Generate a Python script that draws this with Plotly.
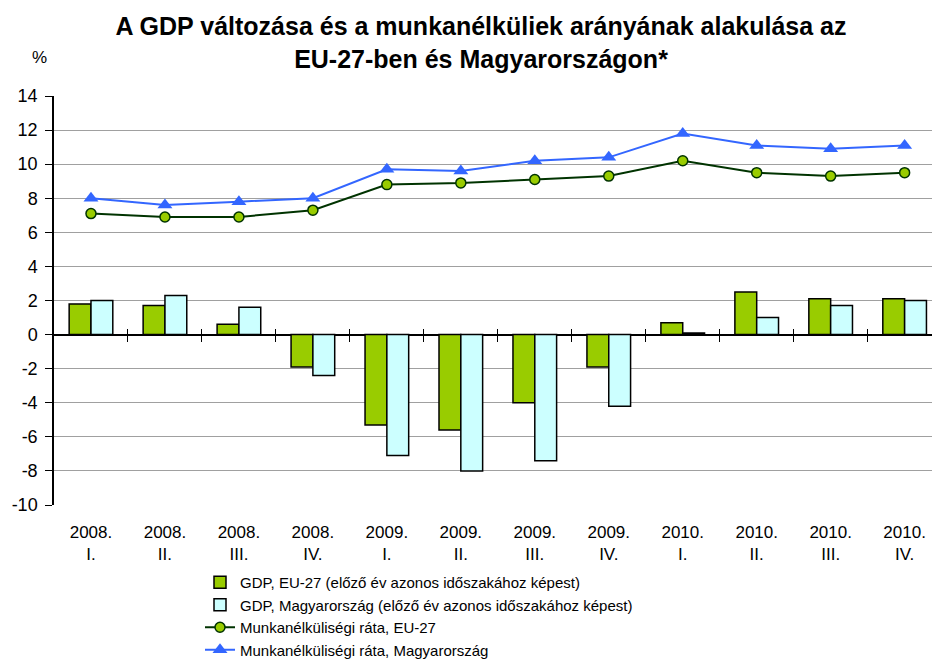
import plotly.graph_objects as go

categories = ["2008.<br>I.", "2008.<br>II.", "2008.<br>III.", "2008.<br>IV.",
              "2009.<br>I.", "2009.<br>II.", "2009.<br>III.", "2009.<br>IV.",
              "2010.<br>I.", "2010.<br>II.", "2010.<br>III.", "2010.<br>IV."]
gdp_eu = [1.8, 1.7, 0.6, -1.9, -5.3, -5.6, -4.0, -1.9, 0.7, 2.5, 2.1, 2.1]
gdp_hu = [2.0, 2.3, 1.6, -2.4, -7.1, -8.0, -7.4, -4.2, 0.1, 1.0, 1.7, 2.0]
unemp_eu = [7.1, 6.9, 6.9, 7.3, 8.8, 8.9, 9.1, 9.3, 10.2, 9.5, 9.3, 9.5]
unemp_hu = [8.0, 7.6, 7.8, 8.0, 9.7, 9.6, 10.2, 10.4, 11.8, 11.1, 10.9, 11.1]
y_tickvals = [-10, -8, -6, -4, -2, 0, 2, 4, 6, 8, 10, 12, 14]
y_ticktext = ["-10", "-8", "-6", "-4", "-2", "0", "2", "4", "6", "8", "10", "12", "14"]

names = ["GDP, EU-27 (előző év azonos időszakához képest)",
         "GDP, Magyarország (előző év azonos időszakához képest)",
         "Munkanélküliségi ráta, EU-27",
         "Munkanélküliségi ráta, Magyarország"]

x = list(range(len(categories)))
boundaries = [i + 0.5 for i in x[:-1]]
xrange_ = [-0.5, 11.37]
FONT = "Liberation Sans, Arial, sans-serif"

fig = go.Figure()
fig.add_trace(go.Bar(x=x, y=gdp_eu, name=names[0], marker=dict(color="#99CC00", line=dict(color="black", width=1.5))))
fig.add_trace(go.Bar(x=x, y=gdp_hu, name=names[1], marker=dict(color="#CCFFFF", line=dict(color="black", width=1.5))))
fig.add_trace(go.Scatter(x=x, y=unemp_eu, name=names[2], mode="lines+markers", xaxis="x2",
                         line=dict(color="#003300", width=2),
                         marker=dict(symbol="circle", size=10, color="#99CC00", line=dict(color="#003300", width=1.5))))
fig.add_trace(go.Scatter(x=x, y=unemp_hu, name=names[3], mode="lines+markers", xaxis="x3",
                         line=dict(color="#3366FF", width=2),
                         marker=dict(symbol="triangle-up", size=13, color="#3366FF")))

common_x = dict(range=xrange_, showgrid=False, zeroline=False, showline=False, automargin=False)
fig.update_layout(
    width=932, height=664,
    margin=dict(l=54, r=0, t=96, b=159, autoexpand=False),
    paper_bgcolor="white", plot_bgcolor="white",
    font=dict(family=FONT, size=17, color="black"),
    title=dict(text="<b>A GDP változása és a munkanélküliek arányának alakulása az<br>EU-27-ben és Magyarországon*</b>",
               x=481 / 932, xanchor="center", xref="container", y=0.947, yanchor="top", yref="container",
               font=dict(family=FONT, size=25, color="black")),
    barmode="group", bargap=0.41, bargroupgap=0,
    xaxis=dict(tickvals=x, ticktext=categories, ticks="", tickfont=dict(size=17), ticklabelstandoff=15, **common_x),
    xaxis2=dict(overlaying="x", anchor="free", position=10 / 24, tickvals=boundaries,
                ticks="outside", ticklen=6, tickcolor="black", tickwidth=1, showticklabels=False, **common_x),
    xaxis3=dict(overlaying="x", anchor="free", position=10 / 24, tickvals=boundaries,
                ticks="inside", ticklen=6, tickcolor="black", tickwidth=1, showticklabels=False, **common_x),
    yaxis=dict(range=[-10, 14], tickvals=y_tickvals, ticktext=y_ticktext, showline=True, linecolor="black",
               linewidth=1.5, ticks="outside", ticklen=7, tickcolor="black", gridcolor="#A0A0A0", gridwidth=1,
               zeroline=True, zerolinecolor="black", zerolinewidth=1.5, automargin=False,
               tickfont=dict(size=18), ticklabelstandoff=4),
    legend=dict(x=200 / 932, y=1 - 566 / 664, xref="container", yref="container", xanchor="left", yanchor="top",
                font=dict(size=15), bgcolor="rgba(0,0,0,0)", tracegroupgap=0),
    showlegend=True,
    annotations=[dict(text="%", xref="paper", yref="paper", x=-0.016, y=1.095, xanchor="center", yanchor="middle",
                      showarrow=False, font=dict(size=17))],
)
fig.write_html("out.html", config={"displayModeBar": False},
               post_script="document.body.style.margin='0';document.body.style.overflow='hidden';")
